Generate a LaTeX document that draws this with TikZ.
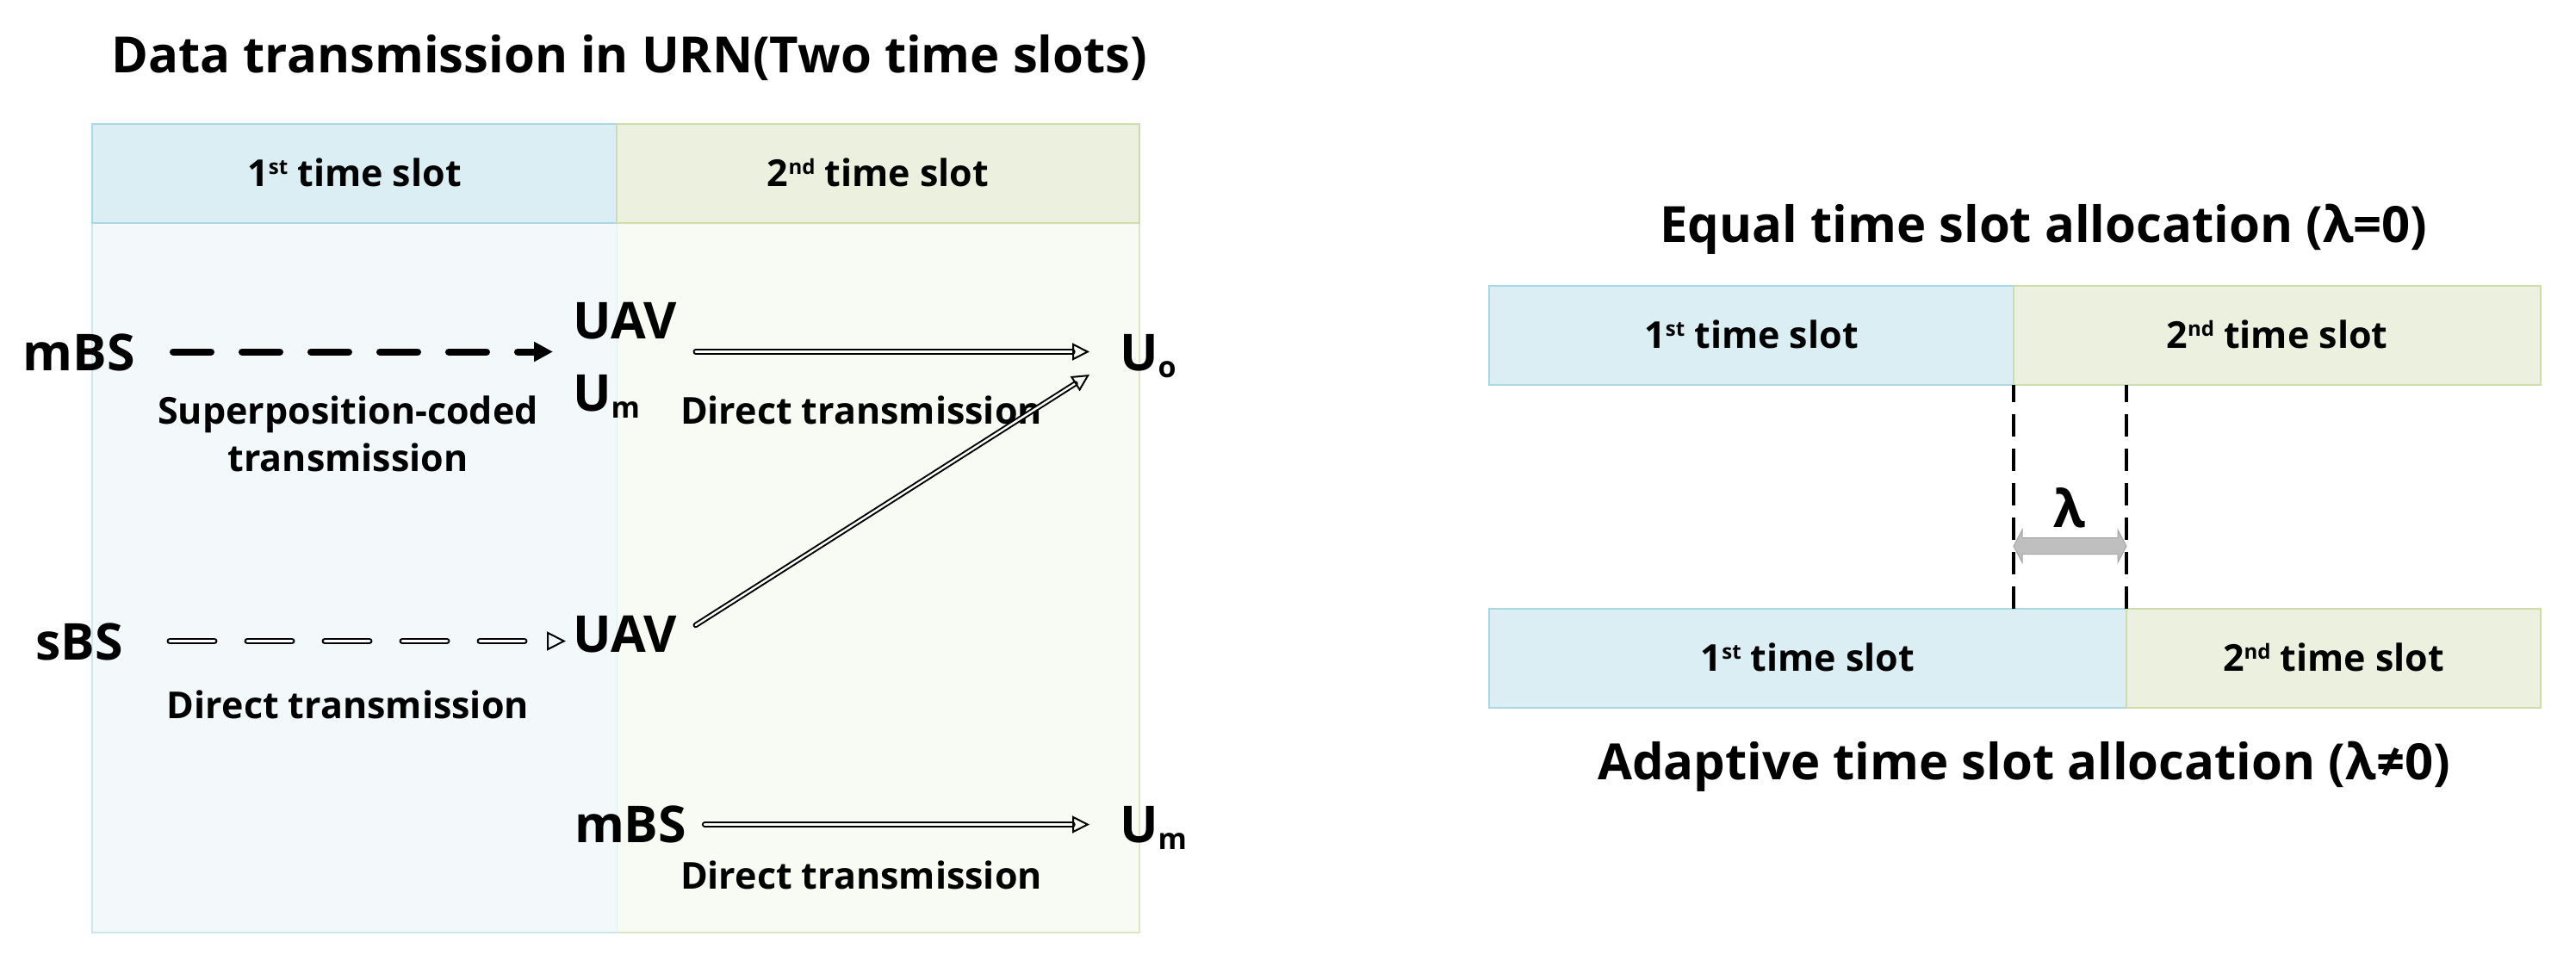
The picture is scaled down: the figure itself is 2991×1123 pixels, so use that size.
\documentclass[tikz,border=0pt]{standalone}
\usepackage{fontspec}
\setmainfont{Open Sans}
\usetikzlibrary{arrows.meta,calc}
\definecolor{hblue}{HTML}{DAEEF3}
\definecolor{hgreen}{HTML}{EBF1DE}
\definecolor{bblue}{HTML}{F3F8FB}
\definecolor{bgreen}{HTML}{F8FAF4}
\definecolor{lblue}{HTML}{A9D8E4}
\definecolor{lgreen}{HTML}{CCDDAA}
\definecolor{arrgray}{HTML}{BFBFBF}
\definecolor{arredge}{HTML}{A6A6A6}
\newcommand{\subtxt}[1]{\raisebox{-8pt}{\fontsize{34}{34}\selectfont #1}}
\newcommand{\suptxt}[1]{\raisebox{14pt}{\fontsize{24}{24}\selectfont #1}}
\begin{document}
\begin{tikzpicture}[x=1pt,y=-1pt,
  every node/.style={inner sep=0pt, outer sep=0pt},
  big/.style={font=\fontsize{59}{72}\selectfont\bfseries, text height=43pt, text depth=0pt},
  lbl/.style={font=\fontsize{43}{55}\selectfont\bfseries, align=center},
  ttl/.style={font=\fontsize{58}{70}\selectfont\bfseries},
  slotb/.style={fill=hblue, draw=lblue, line width=2pt, minimum height=115pt,
    text height=30pt, text depth=0pt, font=\fontsize{43}{55}\selectfont\bfseries},
  slotg/.style={fill=hgreen, draw=lgreen, line width=2pt, minimum height=115pt,
    text height=30pt, text depth=0pt, font=\fontsize{43}{55}\selectfont\bfseries},
  dasharr/.style={line width=8pt, dash pattern=on 44pt off 36pt, line cap=round,
    -{Triangle[length=22pt, width=22pt]}},
  dblarr/.style={double, line width=2pt, double distance=2.4pt, line cap=round,
    -{Triangle[open, length=20pt, width=20pt]}},
  dbldash/.style={double, line width=2pt, double distance=3pt, line cap=round,
    dash pattern=on 52pt off 38pt, -{Triangle[open, length=22pt, width=22pt]}},
  divline/.style={line width=3.5pt, dash pattern=on 26pt off 14pt}
]
\useasboundingbox[fill=white] (0,0) rectangle (2991,1123);

% ---------------- left panel ----------------
\node[ttl, anchor=base] (title1) at (731,85) {Data transmission in URN(Two time slots)};

\fill[bblue] (107,260) rectangle (716,1083);
\fill[bgreen] (716,260) rectangle (1323,1083);
\draw[lblue!60, line width=1.5pt] (716,1083) -- (107,1083) -- (107,260);
\draw[lgreen!70, line width=1.5pt] (716,1083) -- (1323,1083) -- (1323,260);
\draw[lblue!40, line width=1pt] (716,260) -- (716,1083);

\node[slotb, minimum width=609pt] (h1) at (411.5,202) {1\suptxt{st} time slot};
\node[slotg, minimum width=607pt] (h2) at (1019.5,202) {2\suptxt{nd} time slot};

% row 1
\node[big, anchor=base east] (mbs1) at (157,430) {mBS};
\node[big, anchor=base west] (uav1) at (665,393) {UAV};
\node[big, anchor=base west] (um1) at (665,477) {U\subtxt{m}};
\node[big, anchor=base west] (uo) at (1300,430) {U\subtxt{o}};
\node[lbl, anchor=base] (lsup) at (404,547) {Superposition-coded\\transmission};
\node[lbl, anchor=base] (ldir1) at (1000,492) {Direct transmission};

\draw[dasharr] ([xshift=44pt]mbs1.east) -- ([xshift=-23pt]mbs1.east -| uav1.west);
\draw[dblarr] ([xshift=22pt]uav1.east |- mbs1.east) -- ([xshift=-35pt]uo.west);

% row 2
\node[big, anchor=base east] (sbs) at (143,766) {sBS};
\node[big, anchor=base west] (uav2) at (665,757) {UAV};
\node[lbl, anchor=base] (ldir2) at (404,834) {Direct transmission};
\draw[dbldash] ([xshift=54pt,yshift=0pt]sbs.east) -- ([xshift=-8pt,yshift=-9pt]uav2.west);
\draw[dblarr] ([xshift=22pt,yshift=9.5pt]uav2.east) -- ([xshift=-35pt,yshift=-26.5pt]uo.west);

% row 3
\node[big, anchor=base west] (mbs2) at (667,978) {mBS};
\node[big, anchor=base west] (um2) at (1300,978) {U\subtxt{m}};
\node[lbl, anchor=base] (ldir3) at (1000,1032) {Direct transmission};
\draw[dblarr] ([xshift=21pt,yshift=-1pt]mbs2.east) -- ([xshift=-35pt,yshift=-1pt]um2.west);

% ---------------- right panel ----------------
\node[ttl, anchor=base] (title2) at (2373,282) {Equal time slot allocation (λ=0)};
\node[slotb, minimum width=609pt] (t1) at (2033.5,389.5) {1\suptxt{st} time slot};
\node[slotg, minimum width=612pt] (t2) at (2644,389.5) {2\suptxt{nd} time slot};

\node[slotb, minimum width=740pt] (b1) at (2099,764.5) {1\suptxt{st} time slot};
\node[slotg, minimum width=481pt] (b2) at (2709.5,764.5) {2\suptxt{nd} time slot};
\node[ttl, anchor=base] (title3) at (2350,905) {Adaptive time slot allocation (λ≠0)};

\draw[divline] (t1.south east |- b1.north) -- (t1.south east);
\draw[divline] (b1.north east) -- (b1.north east |- t1.south);

\coordinate (lamL) at ($(t1.south east)!0.72!(t1.south east |- b1.north)$);
\coordinate (lamR) at (b1.north east |- lamL);
\node[font=\fontsize{60}{72}\selectfont\bfseries, anchor=base] (lam) at (2403,612) {λ};
\draw[fill=arrgray, draw=arredge, line width=1pt]
  (lamL) -- ($(lamL)+(10,-19)$) -- ($(lamL)+(10,-9.5)$) -- ($(lamR)+(-10,-9.5)$)
  -- ($(lamR)+(-10,-19)$) -- (lamR) -- ($(lamR)+(-10,19)$) -- ($(lamR)+(-10,9.5)$)
  -- ($(lamL)+(10,9.5)$) -- ($(lamL)+(10,19)$) -- cycle;
\end{tikzpicture}
\end{document}
